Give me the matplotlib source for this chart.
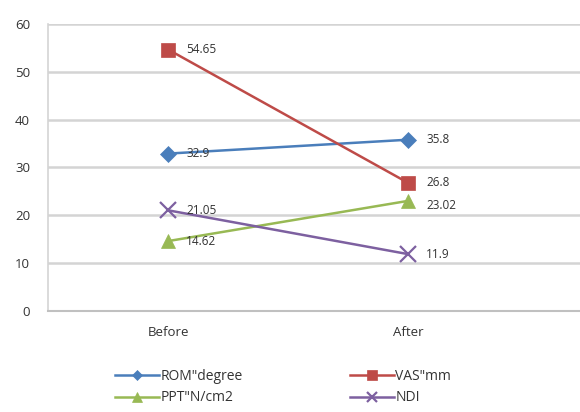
import matplotlib.pyplot as plt

categories = ["Before", "After"]
rom = [32.9, 35.8]
vas = [54.65, 26.8]
ppt = [14.62, 23.02]
ndi = [21.05, 11.9]
labels = ['ROM"degree', 'VAS"mm', 'PPT"N/cm2', 'NDI']
yticks = [0, 10, 20, 30, 40, 50, 60]

plt.rcParams['font.family'] = ['Open Sans', 'DejaVu Sans']

fig = plt.figure(figsize=(5.8, 4.12), dpi=100)
ax = fig.add_axes([0.083, 0.245, 0.917, 0.697])

x = list(range(len(categories)))
series = [
    (rom, labels[0], '#4A7EBB', 'D', 8),
    (vas, labels[1], '#BE4B48', 's', 10),
    (ppt, labels[2], '#98B954', '^', 10),
    (ndi, labels[3], '#7D60A0', 'x', 11),
]
handles = []
for vals, lab, col, mk, ms in series:
    h, = ax.plot(x, vals, color=col, lw=1.8, marker=mk, markersize=ms,
                 markeredgewidth=1.6 if mk == 'x' else 0.5, label=lab, zorder=3)
    handles.append(h)
    for xi, v in zip(x, vals):
        dy = -3 if (lab == labels[2] and xi == 1) else 0
        ax.annotate(f"{v:g}", (xi, v), xytext=(13, dy), textcoords='offset points',
                    fontsize=8.5, color='#333333', va='center', ha='left', zorder=4)

ax.set_xlim(-0.5, 1.717)
ax.set_ylim(0, 60)
ax.set_yticks(yticks)
ax.set_xticks(x)
ax.set_xticklabels(categories)
ax.yaxis.grid(True, color='#d4d4d4', lw=1.8)
ax.set_axisbelow(True)
ax.tick_params(axis='both', length=0, labelsize=9.5, colors='#333333')
ax.tick_params(axis='y', pad=13)
ax.tick_params(axis='x', pad=11)
for s in ['top', 'right']:
    ax.spines[s].set_visible(False)
ax.spines['left'].set_color('#d4d4d4')
ax.spines['bottom'].set_color('#c0c0c0')
ax.spines['left'].set_linewidth(1.2)
ax.spines['bottom'].set_linewidth(1.5)

order = [0, 2, 1, 3]
fig.legend([handles[i] for i in order], [labels[i] for i in order],
           ncol=2, loc='center left', bbox_to_anchor=(0.176, 0.06), frameon=False,
           fontsize=10, handlelength=3.2, columnspacing=7.7, labelspacing=0.45,
           handletextpad=0.1, markerscale=0.7, labelcolor='#333333')

fig.savefig('out.png', dpi=100)
